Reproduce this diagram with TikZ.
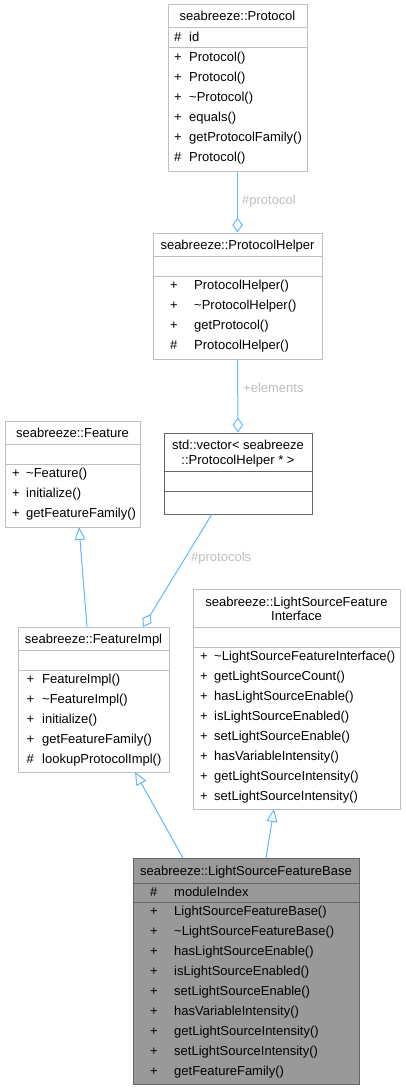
\documentclass[tikz,border=0pt]{standalone}
\usepackage{fontspec}
\setmainfont{Liberation Sans}
\usetikzlibrary{arrows.meta}
\definecolor{edgeblue}{HTML}{63B8FF}
\definecolor{boxgray}{HTML}{BFBFBF}
\definecolor{darkgray}{HTML}{666666}
\definecolor{basefill}{HTML}{999999}
\definecolor{labelgray}{HTML}{BEBEBE}
\tikzset{
  classbox/.style={draw=boxgray, line width=1pt, fill=white, inner sep=0pt},
  member/.style={anchor=base west, inner sep=0pt},
  title/.style={anchor=base, inner sep=0pt, align=center},
  edgelabel/.style={anchor=base west, inner sep=0pt, text=labelgray},
  inherit/.style={draw=edgeblue, line width=1pt, -{Triangle[open, length=13pt, width=11pt]}},
  aggregate/.style={draw=edgeblue, line width=1pt, -{Diamond[open, length=15pt, width=10.5pt]}}
}
\begin{document}
\begin{tikzpicture}[x=1pt, y=-1pt, font=\fontsize{13}{15}\selectfont]
      \useasboundingbox (0,0) rectangle (405,1089);
      % seabreeze::Protocol
      \node[classbox, minimum width=139pt, minimum height=166pt] (protocol) at (237.5,88) {};
      \draw[boxgray, line width=1pt] (168,28) -- (307,28) (168,48) -- (307,48);
      \node[title] (protocolname) at (237.5,21) {seabreeze::Protocol};
      \node[member] (pa) at (174,41.5) {\#};
      \node[member] (pan) at (189,41.5) {id};
      \node[member] (p1) at (174,61.5) {+};
      \node[member] (p1n) at (189,61.5) {Protocol()};
      \node[member] (p2) at (174,81.5) {+};
      \node[member] (p2n) at (189,81.5) {Protocol()};
      \node[member] (p3) at (174,101.5) {+};
      \node[member] (p3n) at (189,101.5) {\textasciitilde Protocol()};
      \node[member] (p4) at (174,121.5) {+};
      \node[member] (p4n) at (189,121.5) {equals()};
      \node[member] (p5) at (174,141.5) {+};
      \node[member] (p5n) at (189,141.5) {getProtocolFamily()};
      \node[member] (p6) at (174,161.5) {\#};
      \node[member] (p6n) at (189,161.5) {Protocol()};
      % seabreeze::ProtocolHelper
      \node[classbox, minimum width=169pt, minimum height=126pt] (helper) at (237.5,296) {};
      \draw[boxgray, line width=1pt] (153,256) -- (322,256) (153,276) -- (322,276);
      \node[title] (helpername) at (237.5,249) {seabreeze::ProtocolHelper};
      \node[member] (h1) at (170,289.5) {+};
      \node[member] (h1n) at (194,289.5) {ProtocolHelper()};
      \node[member] (h2) at (170,309.5) {+};
      \node[member] (h2n) at (194,309.5) {\textasciitilde ProtocolHelper()};
      \node[member] (h3) at (170,329.5) {+};
      \node[member] (h3n) at (194,329.5) {getProtocol()};
      \node[member] (h4) at (170,349.5) {\#};
      \node[member] (h4n) at (194,349.5) {ProtocolHelper()};
      % std::vector
      \node[classbox, draw=darkgray, minimum width=148pt, minimum height=81pt] (vector) at (238,473.5) {};
      \draw[darkgray, line width=1pt] (164,471) -- (312,471) (164,491) -- (312,491);
      \node[title] (vectorname) at (238,449) {std::vector< seabreeze};
      \node[title] (vectorname2) at (238,464) {::ProtocolHelper * >};
      % seabreeze::Feature
      \node[classbox, minimum width=135pt, minimum height=106pt] (feature) at (72.5,474) {};
      \draw[boxgray, line width=1pt] (5,444) -- (140,444) (5,464) -- (140,464);
      \node[title] (featurename) at (72.5,437) {seabreeze::Feature};
      \node[member] (f1) at (12,477.5) {+};
      \node[member] (f1n) at (26,477.5) {\textasciitilde Feature()};
      \node[member] (f2) at (12,497.5) {+};
      \node[member] (f2n) at (26,497.5) {initialize()};
      \node[member] (f3) at (12,517.5) {+};
      \node[member] (f3n) at (26,517.5) {getFeatureFamily()};
      % seabreeze::FeatureImpl
      \node[classbox, minimum width=151pt, minimum height=145pt] (impl) at (93.5,699.5) {};
      \draw[boxgray, line width=1pt] (18,650) -- (169,650) (18,670) -- (169,670);
      \node[title] (implname) at (93.5,643) {seabreeze::FeatureImpl};
      \node[member] (i1) at (26.5,683.5) {+};
      \node[member] (i1n) at (42,683.5) {FeatureImpl()};
      \node[member] (i2) at (26.5,703.5) {+};
      \node[member] (i2n) at (42,703.5) {\textasciitilde FeatureImpl()};
      \node[member] (i3) at (26.5,723.5) {+};
      \node[member] (i3n) at (42,723.5) {initialize()};
      \node[member] (i4) at (26.5,743.5) {+};
      \node[member] (i4n) at (42,743.5) {getFeatureFamily()};
      \node[member] (i5) at (26.5,763.5) {\#};
      \node[member] (i5n) at (42,763.5) {lookupProtocolImpl()};
      % seabreeze::LightSourceFeatureInterface
      \node[classbox, minimum width=207pt, minimum height=220pt] (iface) at (296.5,699) {};
      \draw[boxgray, line width=1pt] (193,627) -- (400,627) (193,647) -- (400,647);
      \node[title] (ifacename) at (296.5,606) {seabreeze::LightSourceFeature};
      \node[title] (ifacename2) at (296.5,620) {Interface};
      \node[member] (l1) at (200,660.5) {+};
      \node[member] (l1n) at (214,660.5) {\textasciitilde LightSourceFeatureInterface()};
      \node[member] (l2) at (200,680.5) {+};
      \node[member] (l2n) at (214,680.5) {getLightSourceCount()};
      \node[member] (l3) at (200,700.5) {+};
      \node[member] (l3n) at (214,700.5) {hasLightSourceEnable()};
      \node[member] (l4) at (200,720.5) {+};
      \node[member] (l4n) at (214,720.5) {isLightSourceEnabled()};
      \node[member] (l5) at (200,740.5) {+};
      \node[member] (l5n) at (214,740.5) {setLightSourceEnable()};
      \node[member] (l6) at (200,760.5) {+};
      \node[member] (l6n) at (214,760.5) {hasVariableIntensity()};
      \node[member] (l7) at (200,780.5) {+};
      \node[member] (l7n) at (214,780.5) {getLightSourceIntensity()};
      \node[member] (l8) at (200,800.5) {+};
      \node[member] (l8n) at (214,800.5) {setLightSourceIntensity()};
      % seabreeze::LightSourceFeatureBase
      \node[classbox, draw=darkgray, fill=basefill, minimum width=226pt, minimum height=226pt] (base) at (246,971) {};
      \draw[darkgray, line width=1pt] (133,883) -- (359,883) (133,902) -- (359,902);
      \node[title] (basename) at (246,875.5) {seabreeze::LightSourceFeatureBase};
      \node[member] (ba) at (150,896.5) {\#};
      \node[member] (ban) at (174,896.5) {moduleIndex};
      \node[member] (b1) at (150,915.5) {+};
      \node[member] (b1n) at (174,915.5) {LightSourceFeatureBase()};
      \node[member] (b2) at (150,935.5) {+};
      \node[member] (b2n) at (174,935.5) {\textasciitilde LightSourceFeatureBase()};
      \node[member] (b3) at (150,955.5) {+};
      \node[member] (b3n) at (174,955.5) {hasLightSourceEnable()};
      \node[member] (b4) at (150,975.5) {+};
      \node[member] (b4n) at (174,975.5) {isLightSourceEnabled()};
      \node[member] (b5) at (150,995.5) {+};
      \node[member] (b5n) at (174,995.5) {setLightSourceEnable()};
      \node[member] (b6) at (150,1015.5) {+};
      \node[member] (b6n) at (174,1015.5) {hasVariableIntensity()};
      \node[member] (b7) at (150,1035.5) {+};
      \node[member] (b7n) at (174,1035.5) {getLightSourceIntensity()};
      \node[member] (b8) at (150,1055.5) {+};
      \node[member] (b8n) at (174,1055.5) {setLightSourceIntensity()};
      \node[member] (b9) at (150,1075.5) {+};
      \node[member] (b9n) at (174,1075.5) {getFeatureFamily()};
      % connectors
      \coordinate (1) at (87,627);
      \coordinate (2) at (79,527);
      \coordinate (3) at (212,514);
      \coordinate (4) at (143,627);
      \coordinate (5) at (183,858);
      \coordinate (6) at (135,772);
      \coordinate (7) at (266,858);
      \coordinate (8) at (274,809);
      \draw[aggregate] (protocol.south) -- (helper.north);
      \draw[aggregate] (helper.south) -- (vector.north);
      \draw[inherit] (1) -- (2);
      \draw[aggregate] (3) -- (4);
      \draw[inherit] (5) -- (6);
      \draw[inherit] (7) -- (8);
      \node[edgelabel] (protocollabel) at (242,204) {\#protocol};
      \node[edgelabel] (elementslabel) at (243,392) {+elements};
      \node[edgelabel] (protocolslabel) at (191,561) {\#protocols};
\end{tikzpicture}
\end{document}
